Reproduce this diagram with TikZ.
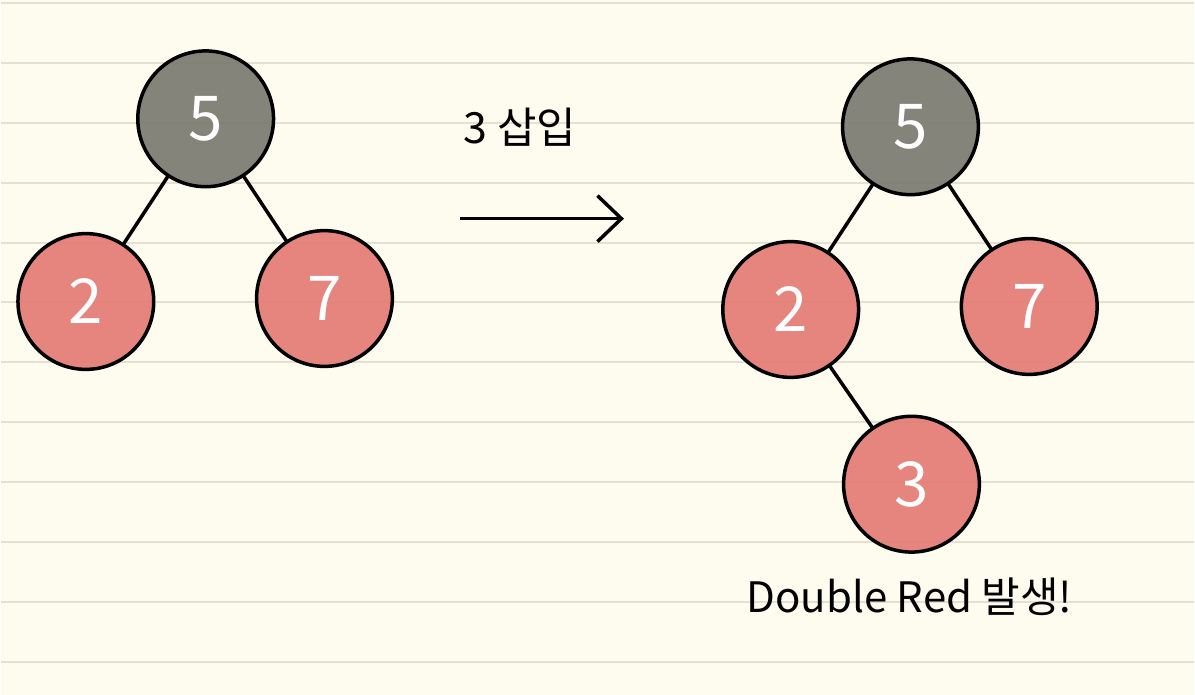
\documentclass[tikz,border=0pt]{standalone}
\usepackage{fontspec}
\setmainfont{Noto Sans CJK KR}
\usepackage{tikz}
\usetikzlibrary{arrows.meta}
\definecolor{paperColor}{HTML}{FEFCEE}
\definecolor{ruleColor}{HTML}{E4E1D2}
\definecolor{blackNode}{HTML}{7A7A72}
\definecolor{redNode}{HTML}{E57B75}
\newcommand\nodeR{136pt}
\newcommand\edgeW{3.5pt}
\tikzset{
    rbnode/.style={circle, draw=black, line width=\edgeW, minimum size=\nodeR,
        inner sep=0pt, text=white, fill opacity=0.92, text opacity=1,
        font=\fontsize{62}{62}\selectfont},
    blacknode/.style={rbnode, fill=blackNode},
    rednode/.style={rbnode, fill=redNode},
    treeedge/.style={line width=\edgeW, line cap=round}
}

\begin{document}
\begin{tikzpicture}[x=1pt, y=-1pt]
        % paper with rules
        \fill[paperColor] (0,0) rectangle (1195,696);
        \foreach \k in {0,...,11}
            \draw[ruleColor, line width=2pt] (0,{3 + 60*\k}) -- (1195,{3 + 60*\k});
        \useasboundingbox (0,0) rectangle (1195,696);

        % before
        \begin{scope}
            \node[blacknode] (rootL) at (205,119) {5};
            \node[rednode] (twoL) at (85,302) {2};
            \node[rednode] (sevenL) at (324,299) {7};
            \draw[treeedge] (rootL) -- (twoL);
            \draw[treeedge] (rootL) -- (sevenL);
        \end{scope}

        % insert arrow
        \coordinate (arrowStart) at (460,219);
        \coordinate (arrowEnd) at (624,219);
        \draw[line width=\edgeW, -{Straight Barb[length=24pt, width=46pt]}] (arrowStart) -- (arrowEnd);
        \node[font=\fontsize{43}{43}\selectfont] (insLabel) at (520,127) {3 삽입};

        % after
        \begin{scope}[shift={(706,8)}]
            \node[blacknode] (rootR) at (205,119) {5};
            \node[rednode] (twoR) at (85,302) {2};
            \node[rednode] (sevenR) at (324,299) {7};
            \node[rednode] (threeR) at (206,477) {3};
            \draw[treeedge] (rootR) -- (twoR);
            \draw[treeedge] (rootR) -- (sevenR);
            \draw[treeedge] (twoR) -- (threeR);
        \end{scope}

        \node[font=\fontsize{42}{42}\selectfont] (doubleRed) at (910,598) {Double Red 발생!};
    \end{tikzpicture}
\end{document}
